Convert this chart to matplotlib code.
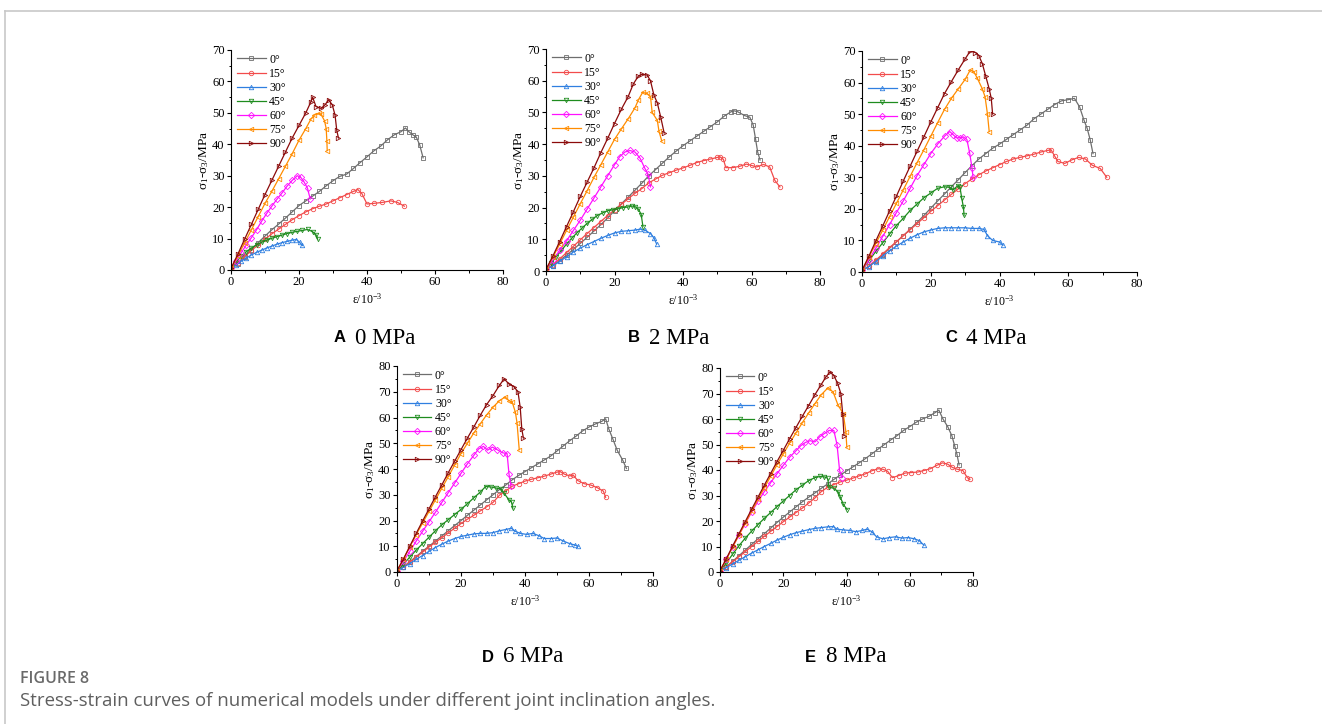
import matplotlib
matplotlib.use("Agg")
import matplotlib.pyplot as plt
from matplotlib.ticker import MultipleLocator
from matplotlib.lines import Line2D

plt.rcParams["font.family"] = ["Liberation Serif", "DejaVu Serif"]
plt.rcParams["mathtext.fontset"] = "custom"
plt.rcParams["mathtext.rm"] = "Liberation Serif"
plt.rcParams["mathtext.it"] = "Liberation Serif:italic"

LABELS = ["0°", "15°", "30°", "45°", "60°", "75°", "90°"]
COLORS = ["#6e6e6e", "#f24b4b", "#2f7fe0", "#1e8c1e", "#ff10ff", "#ff8c00", "#8b0a0a"]
MARKERS = ["s", "o", "^", "v", "D", "<", ">"]

# (strain 10^-3, deviatoric stress MPa)
# --- A: 0 MPa
a_0 = [(0, 0.5), (2, 2), (4, 4.2), (6, 6.5), (8, 8.7), (10, 10.8), (12, 12.8), (14, 14.6), (16, 16.5),
       (18, 18.5), (20, 20.5), (22, 22), (24, 23.5), (26, 25), (28, 26.8), (30, 28.4), (32, 29.8),
       (34, 30.5), (36, 32.3), (38, 34.2), (40, 36), (42, 37.9), (44, 39.4), (46, 41.4), (48, 43),
       (50, 44), (51.3, 45.2), (52.3, 44), (53.5, 43), (54.5, 42.3), (55.5, 39.8), (56.5, 35.7)]
a_15 = [(0, 0.5), (2, 2.3), (4, 4.3), (6, 6.2), (8, 8), (10, 9.8), (12, 11.5), (14, 13), (16, 14.5),
        (18, 16), (20, 17.3), (22, 18.5), (24, 19.5), (26, 20.3), (28, 21), (30, 22), (32, 23),
        (34, 24), (36, 25), (37.3, 25.6), (38.5, 24.3), (40, 21), (42, 21.2), (44.5, 21.5),
        (47, 22), (49, 21.5), (51, 20.3)]
a_30 = [(0, 0.5), (1.5, 1.5), (3, 2.8), (4.5, 3.8), (6, 4.8), (7.5, 5.6), (9, 6.3), (10.5, 7),
        (12, 7.6), (13.5, 8.2), (15, 8.7), (16.5, 9.1), (18, 9.5), (19.2, 9.7), (20.2, 8.8), (21, 7.8)]
a_45 = [(0, 0.5), (1.5, 2.5), (3, 4.3), (4.5, 5.8), (6, 7), (7.5, 8), (9, 8.8), (10.5, 9.5),
        (12, 10.1), (13.5, 10.6), (15, 11.1), (16.5, 11.6), (18, 12), (19.5, 12.3), (21, 12.6),
        (22.5, 12.9), (24, 12.2), (25, 11.2), (25.5, 9.8)]
a_60 = [(0, 0.5), (1.5, 3), (3, 5.5), (4.5, 8), (6, 10.3), (7.5, 12.8), (9, 15.5), (10.5, 18),
        (12, 20.3), (13.5, 22.5), (15, 24.5), (16.5, 26.7), (18, 28.5), (19.5, 30), (20.5, 29.5),
        (21.5, 28), (22.5, 26), (23.3, 22.6)]
a_75 = [(0, 0.5), (2, 4.5), (4, 8.6), (6, 12.8), (8, 17), (10, 21.2), (12, 25), (14, 29), (16, 33),
        (18, 37), (20, 41.3), (22, 45), (23.5, 48), (24.5, 49.3), (26, 49.8), (26.5, 49.5),
        (27.5, 47.5), (28, 45), (28.2, 41), (28.3, 38)]
a_90 = [(0, 0.5), (2, 5), (4, 9.8), (6, 14.5), (8, 19.3), (10, 24), (12, 28.5), (14, 33),
        (16, 37.5), (18, 42), (20, 46), (22, 50), (23.5, 53.5), (24, 55), (25, 52), (26.5, 51.4),
        (27.7, 52.6), (28.7, 54.2), (29.8, 52.5), (30.6, 49.3), (31.1, 44.5), (31.6, 42)]

# --- B: 2 MPa
b_0 = [(0, 0.5), (2, 1.7), (4, 3.3), (6, 5), (8, 6.8), (10, 8.7), (12, 10.6), (14, 12.6), (16, 14.6),
       (18, 16.7), (20, 19), (22, 21.2), (24, 23.3), (26, 25.5), (28, 27.7), (30, 30), (32, 32),
       (34, 34), (36, 36), (38, 37.8), (40, 39.5), (42, 41), (44, 42.5), (46, 44), (48, 45.5),
       (50, 47), (52, 48.8), (54, 50.2), (55, 50.5), (56, 50.2), (58, 49), (59.5, 48.5),
       (60.5, 46), (61.2, 41.5), (61.8, 37.5), (62.5, 35)]
b_15 = [(0, 0.5), (2, 2), (4, 3.8), (6, 5.8), (8, 7.8), (10, 9.8), (12, 11.8), (14, 13.7),
        (16, 15.6), (18, 17.5), (20, 19.3), (22, 21), (24, 22.8), (26, 24.5), (28, 26), (30, 27.8),
        (32, 29), (34, 30.2), (36, 31), (38, 31.8), (40, 32.5), (42, 33.3), (44, 34.2), (46, 34.8),
        (48, 35.3), (50, 35.8), (50.8, 36), (51.8, 35.2), (52.5, 32.6), (54.5, 32.6), (56.5, 33),
        (58.5, 33.7), (60, 33.3), (61.5, 32.8), (63.5, 33.6), (65.3, 32.8), (66.8, 28.6), (68.3, 26.5)]
b_30 = [(0, 0.5), (2, 1.6), (4, 3), (6, 4.5), (8, 6), (10, 7.2), (12, 8.3), (14, 9.3), (16, 10.3),
        (18, 11.2), (20, 12), (22, 12.5), (24, 12.7), (26, 12.9), (27.5, 13.2), (29, 12.8),
        (30.5, 11.8), (31.5, 10.5), (32.3, 8.5)]
b_45 = [(0, 0.5), (1.5, 2.5), (3, 4.5), (4.5, 6.5), (6, 8.5), (7.5, 10.3), (9, 12), (10.5, 13.5),
        (12, 15), (13.5, 16.3), (15, 17.5), (16.5, 18.3), (18, 19), (19.5, 19.3), (21, 19.6),
        (22.5, 20), (24, 20.2), (25, 20.5), (26, 20.3), (27, 19.5), (27.8, 17.8), (28.3, 14)]
b_60 = [(0, 0.5), (2, 3.5), (4, 6.5), (6, 9.5), (8, 12.8), (10, 16), (12, 19.5), (14, 23),
        (16, 26.5), (18, 30), (20, 33.5), (21.5, 36), (23, 37.5), (24.5, 38), (26, 37.5),
        (27.5, 35.5), (28.8, 32.5), (29.8, 30.5), (30.5, 26.5)]
b_75 = [(0, 0.5), (2, 4.3), (4, 8.5), (6, 12.8), (8, 17), (10, 21.2), (12, 25.3), (14, 29.5),
        (16, 33.5), (18, 37.5), (20, 41.5), (22, 44.8), (24, 48), (26, 51.5), (27, 54), (28.2, 56.3),
        (29.5, 56), (30.5, 55), (31, 50), (32.5, 47.5), (33, 44), (33.8, 41)]
b_90 = [(0, 0.5), (2, 4.7), (4, 9.3), (6, 14), (8, 18.7), (10, 23.5), (12, 28), (14, 32.5),
        (16, 37.3), (18, 41.8), (20, 46.5), (22, 51), (24, 55), (25.5, 59), (27, 61.5), (28, 62),
        (29.5, 61.8), (30.5, 60), (31.5, 55.5), (32.5, 53), (33.5, 48.5), (34.5, 43.5)]

# --- C: 4 MPa
c_0 = [(0, 0.5), (2, 1.8), (4, 3.6), (6, 5.5), (8, 7.5), (10, 9.5), (12, 11.5), (14, 13.5),
       (16, 15.7), (18, 17.9), (20, 20.2), (22, 22.5), (24, 24.7), (26, 27), (28, 29.2), (30, 31.5),
       (32, 33.7), (34, 35.8), (36, 37.5), (38, 39.2), (40, 40.5), (42, 42), (44, 43.5), (46, 45),
       (48, 46.5), (50, 48.5), (52, 50), (54, 51.5), (56, 53), (58, 54.2), (60, 54.6), (61.8, 55),
       (63.3, 52.3), (64.6, 48), (65.5, 45.5), (66.4, 41.8), (67.2, 37.5)]
c_15 = [(0, 0.5), (2, 1.8), (4, 3.7), (6, 5.7), (8, 7.7), (10, 9.6), (12, 11.5), (14, 13.4),
        (16, 15.3), (18, 17.2), (20, 19.2), (22, 21), (24, 22.8), (26, 24.6), (28, 26.3), (30, 28),
        (32, 29.5), (34, 30.8), (36, 32), (38, 33), (40, 34), (42, 35), (44, 35.8), (46, 36.3),
        (48, 36.8), (50, 37.3), (52, 38), (54, 38.5), (55, 38.7), (56, 36.8), (57, 35), (59, 34.4),
        (61, 35.5), (63, 36.3), (65, 35.8), (67, 33.8), (69.3, 32.8), (71.2, 30)]
c_30 = [(0, 0.5), (2, 1.7), (4, 3.3), (6, 5), (8, 6.7), (10, 8.2), (12, 9.5), (14, 10.7),
        (16, 11.8), (18, 12.7), (20, 13.3), (22, 13.8), (24, 14), (26, 14), (28, 14), (30, 14),
        (32, 13.8), (34, 13.8), (35.5, 13.5), (36.5, 11.5), (38, 10), (40, 9.5), (41, 8.5)]
c_45 = [(0, 0.5), (2, 3.5), (4, 6.5), (6, 9.2), (8, 12), (10, 14.7), (12, 17), (14, 19.5),
        (16, 21.5), (18, 23.5), (20, 25), (22, 26.5), (24, 27), (25.5, 26.8), (26.5, 26),
        (27.8, 27.3), (28.5, 26.8), (29, 23.5), (29.5, 20.5), (29.7, 18)]
c_60 = [(0, 0.5), (2, 3.8), (4, 7.5), (6, 11.2), (8, 15), (10, 18.8), (12, 22.5), (14, 26.5),
        (16, 30.5), (18, 34), (20, 37.5), (22, 40.5), (24, 43), (25.5, 44.5), (26.5, 43.5),
        (27.5, 42.5), (28.5, 42.5), (29.5, 42.8), (30.5, 42), (31.3, 37.8), (32, 33), (32.3, 30)]
c_75 = [(0, 0.5), (2, 4.7), (4, 9), (6, 13.2), (8, 17.5), (10, 21.7), (12, 26), (14, 30.3),
        (16, 34.6), (18, 38.7), (20, 43), (22, 47.3), (24, 51.5), (26, 55), (28, 58), (30, 61),
        (31.5, 64), (32.5, 63.5), (33.5, 61.5), (35, 58), (35.8, 55.5), (36.5, 50), (37, 44.5)]
c_90 = [(0, 0.5), (2, 5), (4, 9.8), (6, 14.5), (8, 19.3), (10, 24), (12, 28.8), (14, 33.5),
        (16, 38.2), (18, 42.8), (20, 47.5), (22, 52), (24, 56.5), (26, 60.3), (28, 64), (30, 67.5),
        (31.5, 70), (33, 69.5), (34, 68.5), (35, 66), (36, 62), (37, 58), (37.6, 55), (38, 50)]

# --- D: 6 MPa
d_0 = [(0, 0.5), (2, 2), (4, 4), (6, 6), (8, 8.1), (10, 10), (12, 12), (14, 14), (16, 16),
       (18, 18), (20, 20), (22, 22), (24, 24), (26, 26), (28, 28), (30, 30), (32, 32), (34, 33.8),
       (36, 35.8), (38, 37.5), (40, 39), (42, 40.5), (44, 42), (46, 43.5), (48, 45), (50, 47),
       (52, 49), (54, 51), (56, 52.8), (58, 54.8), (60, 56.3), (62, 57.5), (64, 58.5), (65.2, 59.5),
       (66.2, 55.5), (67.5, 51.5), (68.8, 47.3), (70.5, 43.5), (71.7, 40.2)]
d_15 = [(0, 0.5), (2, 2), (4, 3.8), (6, 5.7), (8, 7.7), (10, 9.7), (12, 11.5), (14, 13.3),
        (16, 15.2), (18, 17), (20, 18.8), (22, 20.5), (24, 22), (26, 23.7), (28, 25.3), (30, 27),
        (32, 29.8), (34, 31.5), (36, 33.3), (38, 34.3), (40, 35.3), (42, 36), (44, 36.6),
        (46, 37.2), (48, 38), (50, 38.8), (51, 39), (52.3, 38), (54, 37.3), (55, 37.7), (56.5, 35.5),
        (58.5, 34.3), (60.5, 33.8), (62.5, 32.8), (64.5, 31.4), (65.2, 29)]
d_30 = [(0, 0.5), (2, 1.8), (4, 3.3), (6, 4.9), (8, 6.4), (10, 8), (12, 9.5), (14, 10.8),
        (16, 12), (18, 13), (20, 13.8), (22, 14.3), (24, 14.8), (26, 15), (28, 15), (30, 15.3),
        (32, 16), (34, 16.5), (35.7, 17), (37, 15.8), (38.5, 15), (40.5, 14.6), (42.5, 15),
        (44.5, 14), (46, 13), (48, 13), (50, 13.2), (52, 12), (54, 11), (55.5, 10.5), (56.6, 10)]
d_45 = [(0, 0.5), (2, 3), (4, 5.8), (6, 8.5), (8, 11), (10, 13.5), (12, 16), (14, 18.3),
        (16, 20.3), (18, 22.3), (20, 24.3), (22, 26.5), (24, 28.8), (26, 31), (27.7, 33.2),
        (29.5, 33), (31, 32.6), (32.5, 32.2), (33.5, 30.5), (35, 28), (35.8, 27.2), (36.2, 24.8)]
d_60 = [(0, 0.5), (2, 4.2), (4, 8), (6, 12), (8, 15.8), (10, 19.5), (12, 23.2), (14, 27),
        (16, 30.8), (18, 34.5), (20, 38.3), (22, 42), (24, 45.3), (25.5, 47.8), (27, 48.8),
        (28.3, 47.3), (29.8, 48.5), (31.3, 47.5), (33, 46.3), (34.4, 46), (35, 38), (35.6, 33.5)]
d_75 = [(0, 0.5), (2, 5), (4, 9.8), (6, 14.5), (8, 19), (10, 23.5), (12, 28), (14, 32.5),
        (16, 37), (18, 41.5), (20, 46), (22, 50), (24, 54), (26, 57.5), (28, 61), (30, 64),
        (32, 66.5), (33.8, 68), (35, 66.5), (36, 66), (37, 62), (37.5, 58), (38.2, 47.5)]
d_90 = [(0, 0.5), (2, 5), (4, 10), (6, 15), (8, 19.8), (10, 24.5), (12, 29.2), (14, 33.8),
        (16, 38.5), (18, 43), (20, 47.5), (22, 52), (24, 56.3), (26, 60.8), (28, 65), (30, 68.5),
        (32, 72.5), (33.5, 75), (35, 73), (36.5, 72), (37.8, 70), (38.5, 64), (39, 55.5), (39.5, 52)]

# --- E: 8 MPa
e_0 = [(0, 0.5), (2, 2), (4, 4.2), (6, 6.4), (8, 8.6), (10, 10.8), (12, 13), (14, 15), (16, 17.2),
       (18, 19.4), (20, 21.5), (22, 23.5), (24, 25.5), (26, 27.5), (28, 29.3), (30, 31),
       (32, 32.8), (34, 34.5), (36, 36.3), (38, 38), (40, 39.6), (42, 41.2), (44, 42.8),
       (46, 44.5), (48, 46.3), (50, 48.2), (52, 50), (54, 51.8), (56, 53.5), (58, 55.5), (60, 57),
       (62, 58.7), (64, 60), (66, 61), (68, 62.5), (69.2, 63.5), (70.5, 60), (72, 57), (73.3, 53.5),
       (74.2, 49.5), (74.9, 46.3), (75.6, 42)]
e_15 = [(0, 0.5), (2, 2), (4, 4), (6, 6), (8, 8), (10, 10), (12, 12), (14, 14), (16, 15.9),
        (18, 17.8), (20, 19.7), (22, 21.5), (24, 23.3), (26, 25), (28, 27), (30, 29), (32, 31.5),
        (34, 33.2), (36, 34.3), (38, 35.3), (40, 36), (42, 36.8), (44, 37.7), (46, 38.5),
        (48, 39.7), (50, 40.5), (51.5, 40.3), (53, 39.5), (54.5, 37), (56.5, 37.8), (58.5, 38.8),
        (60.5, 39), (62.5, 39.2), (64.5, 39.8), (66.5, 40.5), (68.5, 41.8), (70.3, 42.8), (72, 42.3),
        (73.5, 41), (75, 40.3), (76.8, 39.8), (78.2, 37), (79, 36.3)]
e_30 = [(0, 0.5), (2, 1.7), (4, 3.2), (6, 4.6), (8, 6), (10, 7.4), (12, 8.7), (14, 10),
        (16, 11.2), (18, 12.5), (20, 13.6), (22, 14.6), (24, 15.4), (26, 16), (28, 16.6), (30, 17.1),
        (32, 17.4), (34, 17.7), (35.8, 17.8), (37, 16.8), (39, 16.5), (41, 16.3), (43, 15.8),
        (45, 16.3), (46.5, 16.8), (48, 15.8), (49.5, 13.8), (51.5, 13), (53.5, 13.5), (55.5, 13.8),
        (57.5, 13.3), (59.5, 13.5), (61.5, 13), (63, 12.3), (64.5, 10.5)]
e_45 = [(0, 0.5), (2, 3.5), (4, 7), (6, 10.3), (8, 13.3), (10, 16), (12, 18.6), (14, 21),
        (16, 23.3), (18, 25.6), (20, 27.8), (22, 30), (24, 32.2), (26, 34), (28, 35.8), (30, 37),
        (31.7, 37.5), (33, 37.3), (34, 36.8), (34.5, 33.3), (36, 32.8), (37.3, 31.5), (38, 29.5),
        (39, 26.5), (40.2, 24.5)]
e_60 = [(0, 0.5), (2, 5), (4, 9.8), (6, 14.5), (8, 19), (10, 23.5), (12, 27.7), (14, 31.5),
        (16, 35), (18, 38.5), (20, 41.8), (22, 45), (24, 47.5), (25.5, 49.5), (27, 50.8),
        (28.5, 51.5), (30, 51), (31.5, 53), (33, 54.3), (34.5, 55.5), (36, 55.5), (37, 50),
        (37.8, 40), (38.5, 37)]
e_75 = [(0, 0.5), (2, 5), (4, 9.8), (6, 14.5), (8, 19.2), (10, 23.8), (12, 28.5), (14, 33),
        (16, 37.5), (18, 42), (20, 46.3), (22, 50.5), (24, 54.5), (26, 58.5), (28, 62.3),
        (30, 66), (32, 69.5), (34.2, 72.3), (35.8, 70.5), (37.3, 65.5), (39, 62), (39.8, 55),
        (40.1, 49)]
e_90 = [(0, 0.5), (2, 5.2), (4, 10.2), (6, 15), (8, 19.8), (10, 24.6), (12, 29.3), (14, 34),
        (16, 38.6), (18, 43.2), (20, 47.7), (22, 52.2), (24, 56.6), (26, 61), (28, 65.2),
        (30, 69.5), (32, 73.5), (33.5, 76.5), (34.8, 78.5), (36, 77), (37.2, 74), (38.2, 70),
        (38.8, 62), (39.2, 53.5)]

PANELS = [
    ("A", "0 MPa", [a_0, a_15, a_30, a_45, a_60, a_75, a_90], 70),
    ("B", "2 MPa", [b_0, b_15, b_30, b_45, b_60, b_75, b_90], 70),
    ("C", "4 MPa", [c_0, c_15, c_30, c_45, c_60, c_75, c_90], 70),
    ("D", "6 MPa", [d_0, d_15, d_30, d_45, d_60, d_75, d_90], 80),
    ("E", "8 MPa", [e_0, e_15, e_30, e_45, e_60, e_75, e_90], 80),
]

# axes boxes in pixels: left, top, right, bottom
BOXES = [(231, 50, 503, 270), (546, 49, 820, 271), (862, 51, 1137, 272),
         (397, 366, 653, 572), (720, 368, 973, 572)]
# panel caption anchors in pixels: x of letter, y centre
CAPS = [(334, 338), (628, 338), (945, 338), (482, 657), (805, 657)]

W, H = 1322, 724
fig = plt.figure(figsize=(W / 100, H / 100), dpi=100)

# page frame lines
fig.add_artist(Line2D([5 / W, 1], [1 - 11 / H, 1 - 11 / H], color="#c8c8c8", lw=1.2))
fig.add_artist(Line2D([5 / W, 5 / W], [0, 1 - 11 / H], color="#c8c8c8", lw=1.2))


def draw_panel(ax, curves, ymax):
    for pts, lab, col, mk in zip(curves, LABELS, COLORS, MARKERS):
        xs, ys = zip(*pts)
        ax.plot(xs, ys, color=col, lw=0.9, marker=mk, ms=3.2, mfc="none",
                mec=col, mew=0.6, label=lab)
    ax.set_xlim(0, 80)
    ax.set_ylim(0, ymax)
    for s in ["top", "right"]:
        ax.spines[s].set_visible(False)
    for s in ["left", "bottom"]:
        ax.spines[s].set_linewidth(0.8)
    ax.xaxis.set_major_locator(MultipleLocator(20))
    ax.xaxis.set_minor_locator(MultipleLocator(10))
    ax.yaxis.set_major_locator(MultipleLocator(10))
    ax.yaxis.set_minor_locator(MultipleLocator(5))
    ax.tick_params(which="major", direction="out", length=3, width=0.8, labelsize=9, pad=1.5)
    ax.tick_params(which="minor", direction="out", length=1.8, width=0.7)
    ax.set_xlabel("ε/10$^{-3}$", fontsize=8.5, labelpad=3)
    ax.set_ylabel("σ$_1$-σ$_3$/MPa", fontsize=9.5, labelpad=0.5)
    ax.legend(loc="upper left", frameon=False, fontsize=8.5, handlelength=2.4,
              handletextpad=0.3, labelspacing=0.18, borderaxespad=0.2,
              borderpad=0.1, bbox_to_anchor=(0.01, 1.0))


for (letter, press, curves, ymax), (l, t, r, b), (cx, cy) in zip(PANELS, BOXES, CAPS):
    ax = fig.add_axes([l / W, 1 - b / H, (r - l) / W, (b - t) / H])
    draw_panel(ax, curves, ymax)
    fig.text(cx / W, 1 - cy / H, letter, fontsize=12, fontweight="bold",
             family="Liberation Sans", ha="left", va="center")
    fig.text((cx + 21) / W, 1 - cy / H, press, fontsize=16.5, ha="left", va="center")

fig.text(20 / W, 1 - 679 / H, "FIGURE 8", fontsize=11.5, fontweight="semibold",
         family="Open Sans", color="#6a6a6a", ha="left", va="center")
fig.text(20 / W, 1 - 701 / H,
         "Stress-strain curves of numerical models under different joint inclination angles.",
         fontsize=13.4, family="Open Sans", color="#5f5f5f", ha="left", va="center")

fig.savefig("out.png", dpi=100)
